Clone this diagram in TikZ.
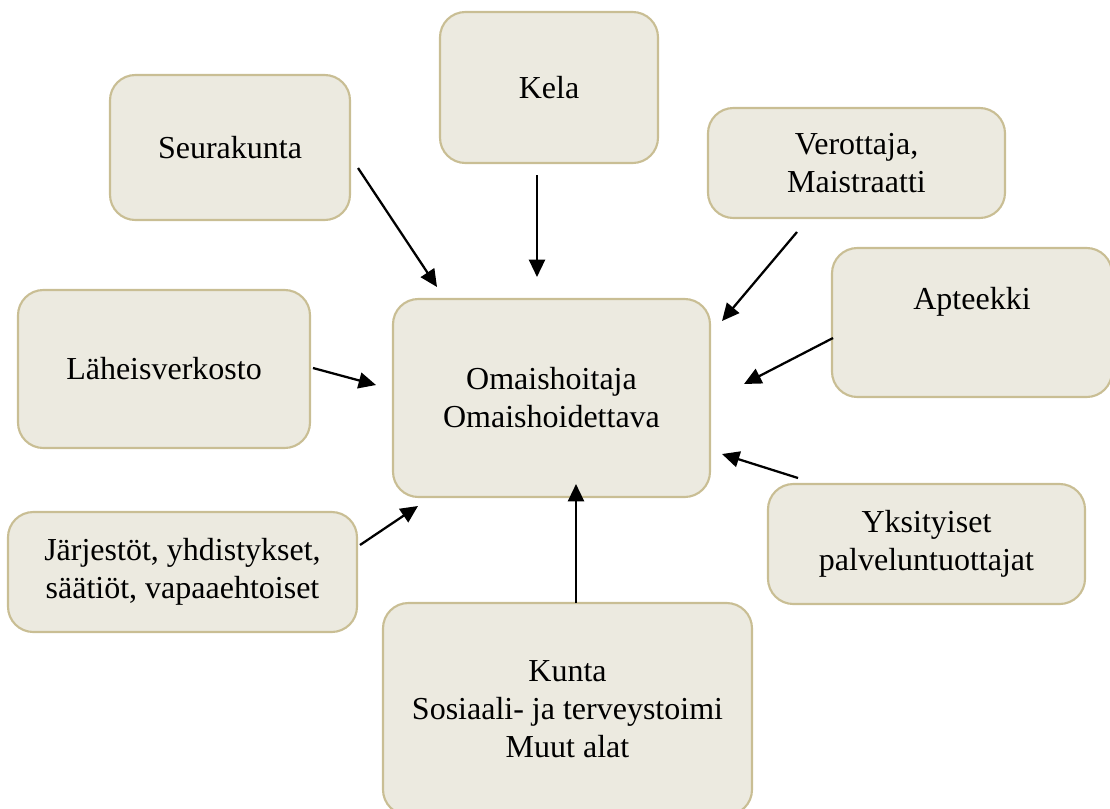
\documentclass[tikz,border=0pt]{standalone}
\usepackage{fontspec}
\setmainfont{Liberation Serif}
\usetikzlibrary{arrows.meta}
\definecolor{boxfill}{HTML}{ECEAE0}
\definecolor{boxline}{HTML}{C9BE94}
\begin{document}
\begin{tikzpicture}[x=0.75pt,y=-0.75pt,
  box/.style={draw=boxline,fill=boxfill,line width=1.6pt,rounded corners=19pt,
    align=center,inner sep=0pt,font=\fontsize{24}{28.5}\selectfont},
  conn/.style={line width=1.7pt,-{Triangle[length=13pt,width=12pt]}}]
\useasboundingbox (0,0) rectangle (1110,808);
\begin{scope}
\clip (0,0) rectangle (1110,808);
\node[box,minimum width=218*0.75pt,minimum height=151*0.75pt] (kela) at (549,87.5) {Kela};
\node[box,minimum width=240*0.75pt,minimum height=145*0.75pt] (seura) at (230,147.5) {Seurakunta};
\node[box,minimum width=297*0.75pt,minimum height=110*0.75pt] (vero) at (856.5,163) {Verottaja,\\Maistraatti};
\node[box,minimum width=280*0.75pt,minimum height=149*0.75pt] (apt) at (972,322.5) {Apteekki\\[8pt]};
\node[box,minimum width=292*0.75pt,minimum height=158*0.75pt] (lah) at (164,369) {Läheisverkosto};
\node[box,minimum width=317*0.75pt,minimum height=198*0.75pt] (oma) at (551.5,398) {Omaishoitaja\\Omaishoidettava};
\node[box,minimum width=349*0.75pt,minimum height=120*0.75pt] (jar) at (182.5,572) {Järjestöt, yhdistykset,\\säätiöt, vapaaehtoiset};
\node[box,minimum width=317*0.75pt,minimum height=120*0.75pt] (yks) at (926.5,544) {Yksityiset\\palveluntuottajat};
\node[box,minimum width=369*0.75pt,minimum height=212*0.75pt] (kunta) at (567.5,709) {Kunta\\Sosiaali- ja terveystoimi\\Muut alat};
\end{scope}
\coordinate (s1) at (358,168); \coordinate (s2) at (437,287);
\coordinate (k1) at (537,175); \coordinate (k2) at (537,277);
\coordinate (v1) at (797,232); \coordinate (v2) at (722,321);
\coordinate (a1) at (833,338); \coordinate (a2) at (744,384);
\coordinate (l1) at (313,368); \coordinate (l2) at (376,385);
\coordinate (y1) at (798,478); \coordinate (y2) at (722,454);
\coordinate (j1) at (360,545); \coordinate (j2) at (418,506);
\coordinate (u1) at (576,603); \coordinate (u2) at (576,484);
\draw[conn] (s1) -- (s2);
\draw[conn] (k1) -- (k2);
\draw[conn] (v1) -- (v2);
\draw[conn] (a1) -- (a2);
\draw[conn] (l1) -- (l2);
\draw[conn] (y1) -- (y2);
\draw[conn] (j1) -- (j2);
\draw[conn] (u1) -- (u2);
\end{tikzpicture}
\end{document}
